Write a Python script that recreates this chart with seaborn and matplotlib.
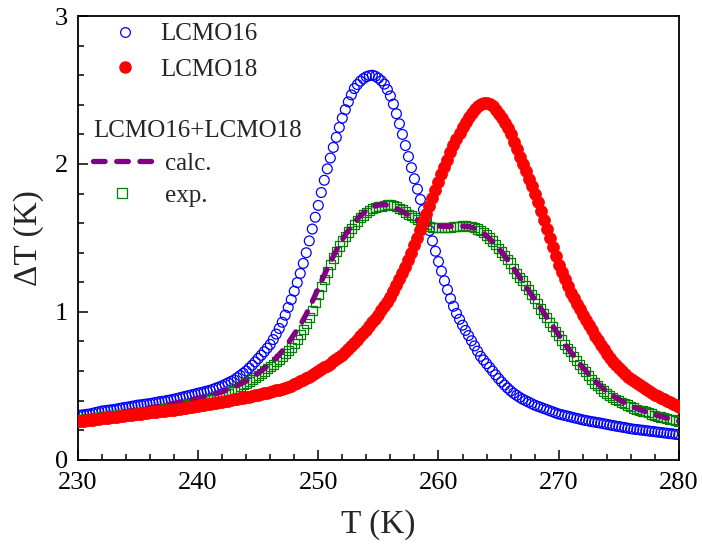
import numpy as np
import pandas as pd
import matplotlib
matplotlib.use("Agg")
import matplotlib.pyplot as plt
from matplotlib.lines import Line2D
from matplotlib.ticker import MultipleLocator
import seaborn as sns

# ---- data ----
temp_fine = np.arange(230.0, 280.001, 0.25)     # measurement grid of the markers
temp_calc = np.arange(230.0, 280.001, 0.5)      # grid of the calculated curve

lcmo16 = [
    0.300, 0.302, 0.305, 0.308, 0.310, 0.315, 0.320, 0.325,
    0.330, 0.332, 0.335, 0.338, 0.340, 0.344, 0.348, 0.352,
    0.355, 0.358, 0.362, 0.366, 0.370, 0.372, 0.375, 0.378,
    0.380, 0.384, 0.388, 0.392, 0.395, 0.398, 0.402, 0.406,
    0.410, 0.415, 0.420, 0.425, 0.430, 0.435, 0.440, 0.445,
    0.450, 0.455, 0.460, 0.465, 0.470, 0.477, 0.485, 0.492,
    0.500, 0.510, 0.520, 0.530, 0.540, 0.555, 0.570, 0.585,
    0.600, 0.620, 0.640, 0.662, 0.685, 0.707, 0.730, 0.755,
    0.780, 0.813, 0.850, 0.888, 0.930, 0.978, 1.030, 1.083,
    1.140, 1.198, 1.260, 1.328, 1.400, 1.480, 1.560, 1.640,
    1.720, 1.807, 1.890, 1.967, 2.040, 2.112, 2.180, 2.247,
    2.310, 2.367, 2.420, 2.467, 2.510, 2.537, 2.560, 2.577,
    2.590, 2.597, 2.600, 2.593, 2.580, 2.562, 2.540, 2.503,
    2.460, 2.405, 2.340, 2.272, 2.200, 2.125, 2.050, 1.975,
    1.900, 1.830, 1.760, 1.690, 1.620, 1.550, 1.480, 1.410,
    1.340, 1.275, 1.210, 1.150, 1.090, 1.038, 0.990, 0.950,
    0.910, 0.875, 0.840, 0.805, 0.770, 0.735, 0.700, 0.675,
    0.650, 0.625, 0.600, 0.575, 0.550, 0.527, 0.505, 0.485,
    0.466, 0.450, 0.436, 0.422, 0.410, 0.400, 0.390, 0.380,
    0.370, 0.362, 0.355, 0.347, 0.340, 0.332, 0.325, 0.317,
    0.310, 0.305, 0.300, 0.295, 0.290, 0.285, 0.280, 0.275,
    0.270, 0.266, 0.262, 0.258, 0.255, 0.251, 0.248, 0.244,
    0.240, 0.236, 0.232, 0.228, 0.225, 0.221, 0.218, 0.214,
    0.210, 0.207, 0.205, 0.202, 0.200, 0.197, 0.195, 0.192,
    0.190, 0.187, 0.185, 0.182, 0.180, 0.177, 0.175, 0.172,
    0.170]

lcmo18 = [
    0.260, 0.262, 0.265, 0.268, 0.270, 0.272, 0.275, 0.278,
    0.280, 0.282, 0.285, 0.288, 0.290, 0.292, 0.295, 0.298,
    0.300, 0.302, 0.305, 0.308, 0.310, 0.312, 0.315, 0.318,
    0.320, 0.322, 0.325, 0.328, 0.330, 0.332, 0.335, 0.338,
    0.340, 0.343, 0.346, 0.349, 0.352, 0.355, 0.358, 0.361,
    0.365, 0.368, 0.372, 0.375, 0.378, 0.381, 0.385, 0.388,
    0.392, 0.396, 0.400, 0.404, 0.408, 0.412, 0.416, 0.420,
    0.424, 0.428, 0.432, 0.436, 0.440, 0.445, 0.450, 0.455,
    0.460, 0.465, 0.470, 0.475, 0.480, 0.487, 0.495, 0.502,
    0.510, 0.520, 0.530, 0.540, 0.550, 0.562, 0.575, 0.587,
    0.600, 0.612, 0.625, 0.637, 0.650, 0.665, 0.680, 0.695,
    0.710, 0.730, 0.750, 0.770, 0.790, 0.812, 0.835, 0.857,
    0.880, 0.905, 0.930, 0.955, 0.980, 1.010, 1.040, 1.070,
    1.100, 1.140, 1.180, 1.220, 1.260, 1.305, 1.350, 1.400,
    1.450, 1.502, 1.555, 1.607, 1.660, 1.715, 1.770, 1.825,
    1.880, 1.930, 1.980, 2.030, 2.080, 2.127, 2.170, 2.212,
    2.250, 2.285, 2.315, 2.345, 2.370, 2.390, 2.405, 2.410,
    2.410, 2.403, 2.390, 2.368, 2.340, 2.312, 2.280, 2.242,
    2.200, 2.152, 2.100, 2.050, 2.000, 1.950, 1.900, 1.850,
    1.800, 1.740, 1.680, 1.620, 1.560, 1.500, 1.440, 1.380,
    1.320, 1.270, 1.220, 1.175, 1.130, 1.092, 1.055, 1.017,
    0.980, 0.945, 0.910, 0.875, 0.840, 0.808, 0.777, 0.747,
    0.718, 0.690, 0.664, 0.640, 0.618, 0.598, 0.580, 0.563,
    0.547, 0.532, 0.518, 0.504, 0.490, 0.477, 0.465, 0.452,
    0.440, 0.430, 0.420, 0.410, 0.400, 0.390, 0.380, 0.370,
    0.360]

mix_exp = [
    0.270, 0.272, 0.275, 0.278, 0.280, 0.282, 0.285, 0.288,
    0.290, 0.292, 0.295, 0.298, 0.300, 0.302, 0.305, 0.308,
    0.310, 0.312, 0.315, 0.318, 0.320, 0.322, 0.325, 0.328,
    0.330, 0.333, 0.337, 0.341, 0.345, 0.348, 0.352, 0.356,
    0.360, 0.363, 0.367, 0.371, 0.375, 0.378, 0.382, 0.386,
    0.390, 0.395, 0.400, 0.405, 0.410, 0.415, 0.420, 0.425,
    0.430, 0.440, 0.450, 0.460, 0.470, 0.482, 0.495, 0.507,
    0.520, 0.532, 0.545, 0.557, 0.570, 0.585, 0.600, 0.615,
    0.630, 0.647, 0.665, 0.682, 0.700, 0.720, 0.740, 0.762,
    0.785, 0.813, 0.845, 0.880, 0.920, 0.963, 1.010, 1.063,
    1.120, 1.170, 1.220, 1.270, 1.320, 1.365, 1.410, 1.445,
    1.480, 1.510, 1.540, 1.565, 1.590, 1.615, 1.640, 1.655,
    1.670, 1.685, 1.700, 1.705, 1.710, 1.715, 1.720, 1.725,
    1.728, 1.720, 1.710, 1.700, 1.690, 1.675, 1.660, 1.650,
    1.640, 1.625, 1.610, 1.600, 1.590, 1.580, 1.572, 1.570,
    1.570, 1.570, 1.570, 1.570, 1.572, 1.576, 1.580, 1.580,
    1.582, 1.582, 1.580, 1.576, 1.570, 1.560, 1.550, 1.535,
    1.520, 1.500, 1.480, 1.455, 1.430, 1.405, 1.380, 1.355,
    1.330, 1.295, 1.260, 1.235, 1.210, 1.180, 1.150, 1.120,
    1.090, 1.055, 1.020, 0.990, 0.960, 0.930, 0.900, 0.870,
    0.840, 0.810, 0.780, 0.755, 0.730, 0.700, 0.670, 0.645,
    0.620, 0.595, 0.570, 0.545, 0.520, 0.500, 0.480, 0.465,
    0.450, 0.435, 0.420, 0.410, 0.400, 0.390, 0.380, 0.370,
    0.360, 0.350, 0.340, 0.335, 0.330, 0.325, 0.320, 0.310,
    0.300, 0.295, 0.290, 0.285, 0.280, 0.275, 0.270, 0.265,
    0.260]

mix_calc = [
    0.280, 0.285, 0.290, 0.296, 0.302, 0.308, 0.314, 0.320, 0.326, 0.332,
    0.338, 0.345, 0.352, 0.359, 0.366, 0.374, 0.382, 0.390, 0.398, 0.407,
    0.416, 0.426, 0.436, 0.448, 0.460, 0.476, 0.492, 0.512, 0.532, 0.558,
    0.585, 0.617, 0.650, 0.690, 0.735, 0.790, 0.850, 0.910, 0.985, 1.070,
    1.160, 1.250, 1.335, 1.415, 1.490, 1.550, 1.605, 1.650, 1.685, 1.710,
    1.722, 1.725, 1.718, 1.700, 1.680, 1.655, 1.630, 1.610, 1.595, 1.585,
    1.580, 1.578, 1.578, 1.580, 1.580, 1.578, 1.565, 1.545, 1.515, 1.475,
    1.430, 1.380, 1.325, 1.265, 1.205, 1.145, 1.085, 1.025, 0.965, 0.905,
    0.845, 0.785, 0.730, 0.675, 0.625, 0.578, 0.535, 0.497, 0.463, 0.433,
    0.407, 0.385, 0.365, 0.347, 0.332, 0.318, 0.305, 0.293, 0.282, 0.272,
    0.262]

x_ticks = [230, 240, 250, 260, 270, 280]
y_ticks = [0, 1, 2, 3]

df = pd.DataFrame({"T": temp_fine, "LCMO16": lcmo16, "LCMO18": lcmo18, "exp": mix_exp})
df_calc = pd.DataFrame({"T": temp_calc, "calc": mix_calc})

# ---- style ----
sns.set_theme(style="ticks")
plt.rcParams["font.family"] = ["Liberation Serif", "DejaVu Serif"]
plt.rcParams["axes.linewidth"] = 1.3

fig = plt.figure(figsize=(7.02, 5.54), dpi=100)
ax = fig.add_axes([0.111, 0.170, 0.856, 0.801])

BLUE = "#0000FF"
RED = "#FF0000"
GREEN = "#008000"
PURPLE = "#800080"
DASH = (0, (2.2, 2.2))

sns.scatterplot(data=df, x="T", y="LCMO16", ax=ax, marker="o", s=50,
                facecolors="none", edgecolor=BLUE, linewidth=0.9, legend=False, zorder=2)
sns.scatterplot(data=df, x="T", y="exp", ax=ax, marker="s", s=44,
                facecolors="none", edgecolor=GREEN, linewidth=0.9, legend=False, zorder=3)
sns.lineplot(data=df_calc, x="T", y="calc", ax=ax, color=PURPLE, linewidth=3.8,
             legend=False, zorder=4)
ax.lines[-1].set_linestyle(DASH)
ax.lines[-1].set_dash_capstyle("round")
sns.scatterplot(data=df, x="T", y="LCMO18", ax=ax, marker="o", s=74,
                color=RED, edgecolor=RED, linewidth=0.5, legend=False, zorder=5)

ax.set_xlim(230, 280)
ax.set_ylim(0, 3)
ax.set_xticks(x_ticks)
ax.set_yticks(y_ticks)
ax.xaxis.set_minor_locator(MultipleLocator(2))
ax.yaxis.set_minor_locator(MultipleLocator(0.2))
ax.tick_params(which="both", direction="in", top=False, right=False,
               labelsize=19, colors="black", width=1.1)
ax.tick_params(which="major", length=7)
ax.tick_params(which="minor", length=4)
ax.tick_params(axis="x", which="major", pad=9)
ax.tick_params(axis="y", which="major", pad=7)
for sp in ax.spines.values():
    sp.set_visible(True)
    sp.set_color("black")
    sp.set_linewidth(1.3)

ax.set_xlabel("T (K)", fontsize=24, labelpad=11)
ax.set_ylabel("ΔT (K)", fontsize=24, labelpad=8)

# ---- legends ----
h16 = Line2D([], [], ls="", marker="o", ms=7, mfc="none", mec=BLUE, mew=0.9)
h18 = Line2D([], [], ls="", marker="o", ms=8, mfc=RED, mec=RED)
hcalc = Line2D([], [], color=PURPLE, lw=3.8, ls=DASH, dash_capstyle="round")
hexp = Line2D([], [], ls="", marker="s", ms=6.5, mfc="none", mec=GREEN, mew=0.9)

leg1 = ax.legend([h16, h18], ["LCMO16", "LCMO18"], loc="upper left",
                 bbox_to_anchor=(96 / 702, 1 - 23 / 554), bbox_transform=fig.transFigure,
                 frameon=False, fontsize=18, handlelength=2.3, handletextpad=0.28,
                 labelspacing=0.52, borderpad=0, borderaxespad=0)
ax.add_artist(leg1)
leg2 = ax.legend([hcalc, hexp], ["calc.", "exp."], loc="upper left",
                 bbox_to_anchor=(93 / 702, 1 - 120 / 554), bbox_transform=fig.transFigure,
                 frameon=False, fontsize=18, title="LCMO16+LCMO18", title_fontsize=18,
                 alignment="left", handlelength=2.3, handletextpad=0.6,
                 labelspacing=0.4, borderpad=0, borderaxespad=0)

fig.savefig("out.png", dpi=100)
